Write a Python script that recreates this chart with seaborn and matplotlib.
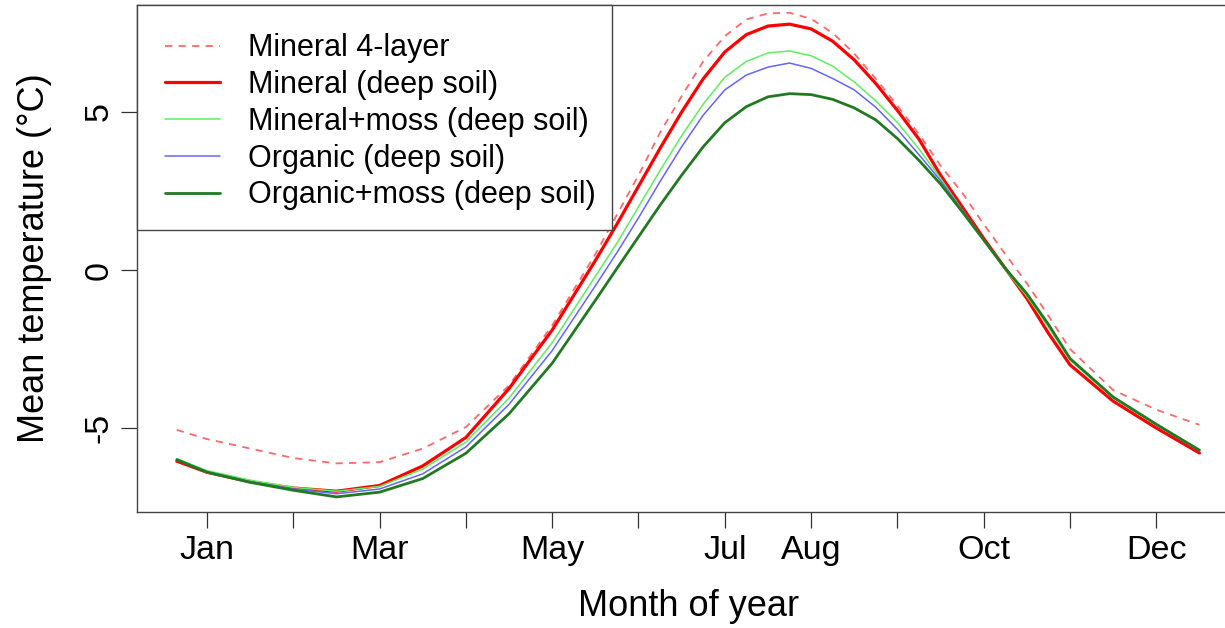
import matplotlib
matplotlib.use("Agg")
import matplotlib.pyplot as plt
from matplotlib.patches import Rectangle
import seaborn as sns
import pandas as pd

# ---- data ----
month = [0.65, 1.0, 1.5, 2.0, 2.5, 3.0, 3.5, 4.0, 4.5, 5.0, 5.5, 5.75, 6.0, 6.25, 6.5, 6.75,
         7.0, 7.25, 7.5, 7.75, 8.0, 8.25, 8.5, 8.75, 9.0, 9.25, 9.5, 9.75, 10.0, 10.25,
         10.5, 10.75, 11.0, 11.5, 12.0, 12.5]
mineral_4layer = [-5.06, -5.35, -5.65, -5.95, -6.12, -6.08, -5.65, -4.97, -3.65, -1.75, 0.5, 1.75,
                  3.0, 4.35, 5.5, 6.6, 7.4, 7.93, 8.12, 8.14, 7.95, 7.5, 6.85, 6.05, 5.2, 4.3,
                  3.3, 2.45, 1.45, 0.5, -0.42, -1.45, -2.5, -3.8, -4.42, -4.9]
mineral_deep = [-6.05, -6.4, -6.7, -6.9, -7.0, -6.82, -6.2, -5.3, -3.75, -1.9, 0.3, 1.45,
                2.65, 3.85, 5.0, 6.05, 6.9, 7.45, 7.72, 7.78, 7.63, 7.24, 6.65, 5.9, 5.05, 4.14,
                3.0, 2.0, 1.0, 0.05, -0.9, -2.0, -3.0, -4.15, -5.0, -5.79]
mineral_moss = [-5.97, -6.35, -6.65, -6.88, -7.0, -6.85, -6.3, -5.45, -4.05, -2.3, -0.2, 0.85,
                2.0, 3.15, 4.25, 5.25, 6.1, 6.6, 6.87, 6.93, 6.78, 6.45, 5.95, 5.35, 4.67, 3.83,
                2.9, 1.9, 0.95, 0.0, -0.83, -1.8, -2.85, -4.05, -4.9, -5.72]
organic_deep = [-6.0, -6.38, -6.7, -6.93, -7.08, -6.93, -6.45, -5.6, -4.25, -2.55, -0.5, 0.55,
                1.65, 2.8, 3.9, 4.9, 5.7, 6.17, 6.42, 6.55, 6.38, 6.06, 5.7, 5.15, 4.45, 3.65,
                2.83, 1.9, 0.95, 0.05, -0.75, -1.72, -2.8, -4.02, -4.9, -5.72]
organic_moss = [-6.0, -6.4, -6.72, -6.97, -7.18, -7.03, -6.6, -5.8, -4.55, -2.95, -0.96, 0.05,
                1.05, 2.05, 3.0, 3.9, 4.66, 5.17, 5.48, 5.58, 5.55, 5.4, 5.13, 4.75, 4.16, 3.47,
                2.72, 1.85, 0.95, 0.05, -0.75, -1.72, -2.8, -4.02, -4.88, -5.7]

series_names = ["Mineral 4-layer", "Mineral (deep soil)", "Mineral+moss (deep soil)",
                "Organic (deep soil)", "Organic+moss (deep soil)"]
series_values = [mineral_4layer, mineral_deep, mineral_moss, organic_deep, organic_moss]

tick_positions = [1, 2, 3, 4, 5, 6, 7, 8, 9, 10, 11, 12]
tick_labels = ["Jan", "", "Mar", "", "May", "", "Jul", "Aug", "", "Oct", "", "Dec"]
y_ticks = [-5, 0, 5]

# ---- styles ----
colors = ["#FF6868", "#FF0000", "#5CF05C", "#6464FF", "#217A21"]
widths = [1.3, 2.3, 1.1, 1.1, 2.0]

sns.set_style("ticks")
plt.rcParams["font.family"] = ["Liberation Sans", "DejaVu Sans"]
plt.rcParams["text.color"] = "black"
plt.rcParams["axes.labelcolor"] = "black"
plt.rcParams["xtick.color"] = "#333333"
plt.rcParams["ytick.color"] = "#333333"

fig = plt.figure(figsize=(12.25, 6.28), dpi=100)
W, H = 1225, 628
AX_W, AX_H = 1240 - 137, 507
ax = fig.add_axes([137 / W, 116 / H, AX_W / W, AX_H / H])

for name, vals, c, lw in zip(series_names, series_values, colors, widths):
    df = pd.DataFrame({"month": month, "temp": vals})
    sns.lineplot(data=df, x="month", y="temp", ax=ax, color=c, linewidth=lw, label=name)
    ax.lines[-1].set_solid_capstyle("round")
    ax.lines[-1].set_solid_joinstyle("round")
    if name == "Mineral 4-layer":
        ax.lines[-1].set_dashes([4, 3.5])

ax.set_xlim(0.189, 12.97)
ax.set_ylim(-7.658, 8.386)

ax.set_xticks(tick_positions)
ax.set_xticklabels(tick_labels)
ax.set_yticks(y_ticks)
ax.set_yticklabels([str(v) for v in y_ticks])

ax.tick_params(axis="both", direction="out", length=11.5, width=0.9, color="#333333",
               labelsize=24.5, labelcolor="black", bottom=True, left=True)
ax.tick_params(axis="x", pad=5)
ax.tick_params(axis="y", pad=4.5)
for lab in ax.get_yticklabels():
    lab.set_rotation(90)
    lab.set_va("center")
    lab.set_ha("right")

for side in ["top", "left", "bottom", "right"]:
    ax.spines[side].set_visible(True)
    ax.spines[side].set_color("#444444")
    ax.spines[side].set_linewidth(1.0)

ax.set_xlabel("Month of year", fontsize=26, color="black")
ax.set_ylabel("Mean temperature (\u00b0C)", fontsize=26, color="black")
ax.xaxis.set_label_coords(0.5, (21 - 116) / AX_H)
ax.xaxis.label.set_va("center")
ax.yaxis.set_label_coords((35 - 137) / AX_W, 0.5)
ax.yaxis.label.set_va("center")

# legend box (R style, square, white fill)
box = Rectangle((0, (512 - 230) / AX_H), (612 - 137) / AX_W, (230 - 5) / AX_H,
                transform=ax.transAxes, facecolor="white", edgecolor="#444444",
                linewidth=1.0, zorder=4, clip_on=False)
ax.add_patch(box)

leg = ax.legend(loc="upper left", bbox_to_anchor=(7 / AX_W, 1 - 7 / AX_H), borderaxespad=0,
                fontsize=22, frameon=False, handlelength=1.8, handletextpad=0.9,
                labelspacing=0.22, borderpad=0.7)
leg.set_zorder(5)
for t in leg.get_texts():
    t.set_color("black")

fig.savefig("out.png", dpi=100)
